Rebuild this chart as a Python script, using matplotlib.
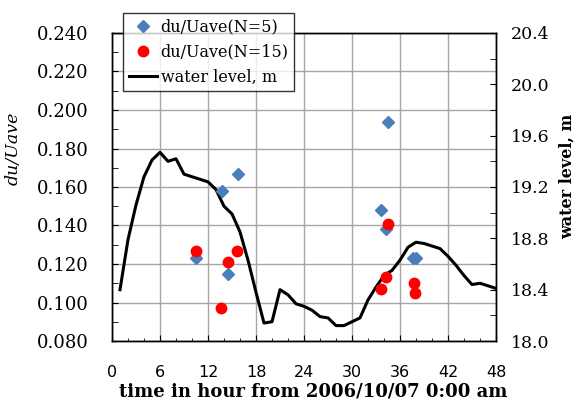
import matplotlib
matplotlib.use("Agg")
import matplotlib.pyplot as plt
from matplotlib.ticker import MultipleLocator, FormatStrFormatter

# ---- data ----
hours = list(range(1, 49))
water_level = [18.40, 18.79, 19.06, 19.28, 19.41, 19.47, 19.40, 19.42, 19.30, 19.28,
               19.26, 19.24, 19.18, 19.05, 18.99, 18.85, 18.63, 18.38, 18.14, 18.15,
               18.40, 18.36, 18.29, 18.27, 18.24, 18.19, 18.18, 18.12, 18.12, 18.15,
               18.18, 18.32, 18.42, 18.51, 18.55, 18.63, 18.73, 18.77, 18.76, 18.74,
               18.72, 18.66, 18.59, 18.51, 18.44, 18.45, 18.43, 18.41]

n5_time = [10.5, 13.7, 14.5, 15.7, 33.6, 34.2, 34.5, 37.6, 38.0]
n5_val = [0.123, 0.158, 0.115, 0.167, 0.148, 0.138, 0.194, 0.123, 0.123]

n15_time = [10.5, 13.6, 14.5, 15.6, 33.6, 34.25, 34.5, 37.7, 37.9]
n15_val = [0.127, 0.097, 0.121, 0.127, 0.107, 0.113, 0.141, 0.110, 0.105]

xticks = [0, 6, 12, 18, 24, 30, 36, 42, 48]

# ---- figure ----
fig = plt.figure(figsize=(5.77, 4.01), dpi=100)
ax = fig.add_axes([112/577, 1-341/401, (496-112)/577, (341-33)/401])
ax2 = ax.twinx()

ax.set_xlim(0, 48)
ax.set_ylim(0.08, 0.24)
ax2.set_ylim(18.0, 20.4)

ax.set_xticks(xticks)
ax.xaxis.set_minor_locator(MultipleLocator(2))
ax.yaxis.set_major_locator(MultipleLocator(0.02))
ax.yaxis.set_minor_locator(MultipleLocator(0.01))
ax.yaxis.set_major_formatter(FormatStrFormatter('%.3f'))
ax2.yaxis.set_major_locator(MultipleLocator(0.4))
ax2.yaxis.set_minor_locator(MultipleLocator(0.2))
ax2.yaxis.set_major_formatter(FormatStrFormatter('%.1f'))

ax.grid(True, which='major', color='#a6a6a6', lw=1.0)
ax.set_axisbelow(True)

serif = 'DejaVu Serif'
ax.tick_params(axis='x', which='both', direction='in', pad=17, labelsize=11.5)
ax.tick_params(axis='x', which='major', length=4.5)
ax.tick_params(axis='x', which='minor', length=2.5)
ax.tick_params(axis='y', which='both', direction='in', pad=17, labelsize=13)
ax.tick_params(axis='y', which='major', length=4)
ax.tick_params(axis='y', which='minor', length=4)
ax2.tick_params(axis='y', which='both', direction='in', pad=11, labelsize=12.5)
ax2.tick_params(axis='y', which='major', length=4)
ax2.tick_params(axis='y', which='minor', length=4)
for lab in ax.get_yticklabels() + ax2.get_yticklabels():
    lab.set_family(serif)
for lab in ax.get_xticklabels():
    lab.set_family('DejaVu Sans')

for a in (ax, ax2):
    for s in a.spines.values():
        s.set_color('black')
        s.set_linewidth(1.0)

# water level line (right axis)
wl, = ax2.plot(hours, water_level, color='black', lw=2.2, label='water level, m', zorder=2)
# scatter (left-axis values, drawn on top of the line)
n5, = ax2.plot(n5_time, n5_val, linestyle='none', marker='D', ms=6.0, color='#4a7ebb',
               transform=ax.transData, label='du/Uave(N=5)', zorder=3)
n15, = ax2.plot(n15_time, n15_val, linestyle='none', marker='o', ms=7.5, color='#ff0000',
                transform=ax.transData, label='du/Uave(N=15)', zorder=4)

ax.set_xlabel('time in hour from 2006/10/07 0:00 am', family=serif, fontweight='bold', fontsize=13)
ax.xaxis.label.set_va('baseline')
ax.xaxis.set_label_coords(0.525, -(397-341)/308)
ax.set_ylabel('du/Uave', family=serif, style='italic', fontsize=12.5)
ax.yaxis.set_label_coords(-0.235, 0.627)
ax2.set_ylabel('water level, m', family=serif, fontweight='bold', fontsize=11.5, rotation=90)
ax2.yaxis.set_label_coords((559-112)/384, 0.536)

leg = fig.legend(handles=[n5, n15, wl], loc='upper left',
                 bbox_to_anchor=(123/577, 1-13/401), frameon=True, fancybox=False,
                 prop={'family': serif, 'size': 11.5}, handlelength=1.8,
                 handletextpad=0.2, borderpad=0.35, labelspacing=0.5, borderaxespad=0)
leg.get_frame().set_edgecolor('black')
leg.get_frame().set_linewidth(1.0)

fig.savefig('out.png', dpi=100)
